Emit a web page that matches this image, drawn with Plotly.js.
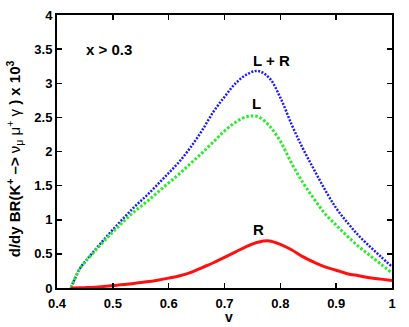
<!DOCTYPE html>
<html>
<head>
<meta charset="utf-8">
<script src="https://cdn.plot.ly/plotly-3.0.1.min.js"></script>
<style>
  html, body { margin: 0; padding: 0; background: #fff; }
  #chart { width: 409px; height: 327px; }
</style>
</head>
<body>
<div id="chart"></div>
<script>
// y values (x 10^3)
const yVals = [0.425, 0.43, 0.44, 0.45, 0.46, 0.48, 0.50, 0.52, 0.54, 0.56, 0.58, 0.60,
               0.62, 0.64, 0.66, 0.68, 0.70, 0.72, 0.74, 0.76, 0.78, 0.80, 0.82, 0.84,
               0.86, 0.88, 0.90, 0.92, 0.94, 0.96, 0.98, 1.00];

const sumLR = [0, 0.10, 0.27, 0.385, 0.48, 0.67, 0.855, 1.03, 1.20, 1.35, 1.515, 1.685,
               1.86, 2.07, 2.31, 2.58, 2.80, 3.00, 3.13, 3.18, 3.08, 2.79, 2.40, 2.05,
               1.74, 1.44, 1.17, 0.96, 0.77, 0.61, 0.46, 0.31];

const leftL = [0, 0.10, 0.27, 0.38, 0.47, 0.65, 0.82, 0.98, 1.13, 1.26, 1.40, 1.54,
               1.68, 1.83, 1.98, 2.14, 2.30, 2.43, 2.51, 2.51, 2.38, 2.15, 1.83, 1.55,
               1.31, 1.09, 0.92, 0.76, 0.61, 0.48, 0.35, 0.22];

const rightR = [0, 0, 0.002, 0.005, 0.008, 0.02, 0.035, 0.05, 0.07, 0.09, 0.115, 0.145,
                0.18, 0.23, 0.30, 0.37, 0.45, 0.53, 0.61, 0.67, 0.69, 0.64, 0.56, 0.46,
                0.38, 0.31, 0.26, 0.21, 0.18, 0.15, 0.13, 0.11];

const xTickVals = [0.4, 0.5, 0.6, 0.7, 0.8, 0.9, 1];
const xTickText = ['0.4', '0.5', '0.6', '0.7', '0.8', '0.9', '1'];
const yTickVals = [0, 0.5, 1, 1.5, 2, 2.5, 3, 3.5, 4];
const yTickText = ['0', '0.5', '1', '1.5', '2', '2.5', '3', '3.5', '4'];

const curveLabels = ['L + R', 'L', 'R'];
const labelX = [0.784, 0.758, 0.760];
const labelY = [3.34, 2.71, 0.86];

const fontFam = 'Liberation Sans, Arial, sans-serif';
const bold = s => '<b>' + s + '</b>';

const traceLR = {
    x: yVals, y: sumLR, type: 'scatter', mode: 'lines', name: 'L + R',
    line: { color: '#1a1aff', width: 2.5, dash: '2px,1.5px', shape: 'spline' }
};
const traceL = {
    x: yVals, y: leftL, type: 'scatter', mode: 'lines', name: 'L',
    line: { color: '#22ee22', width: 3, dash: '2.5px,2px', shape: 'spline' }
};
const traceR = {
    x: yVals, y: rightR, type: 'scatter', mode: 'lines', name: 'R',
    line: { color: '#ff1010', width: 3, shape: 'spline' }
};

const annots = curveLabels.map((t, i) => ({
    x: labelX[i], y: labelY[i], xref: 'x', yref: 'y', text: bold(t), showarrow: false,
    font: { family: fontFam, size: 15, color: '#000' }
}));
annots.push({
    x: 0.494, y: 3.5, xref: 'x', yref: 'y', text: bold('x > 0.3'), showarrow: false,
    font: { family: fontFam, size: 15, color: '#000' }
});
// axis titles placed as annotations to match the reference positions
annots.push({
    x: 0.513, y: -0.108, xref: 'paper', yref: 'paper', text: bold('v'), showarrow: false,
    xanchor: 'center', yanchor: 'middle', borderpad: 0,
    font: { family: fontFam, size: 14, color: '#000' }
});
annots.push({
    x: -0.128, y: 0.472, xref: 'paper', yref: 'paper', textangle: -90, showarrow: false,
    xanchor: 'center', yanchor: 'middle',
    text: bold('d/dy BR(K<sup>+</sup> \u2013> ') + '\u03bd<sub>\u03bc</sub> \u03bc<sup>+</sup> \u03b3' + bold(' ) x 10<sup>3</sup>'),
    font: { family: fontFam, size: 15, color: '#000' }
});

const axisCommon = {
    showline: true, linecolor: '#000', linewidth: 2, mirror: 'ticks',
    ticks: 'inside', ticklen: 5, tickwidth: 1.5, tickcolor: '#000',
    showgrid: false, zeroline: false,
    tickfont: { family: fontFam, size: 13, color: '#000' }
};

const layout = {
    width: 409, height: 327,
    margin: { l: 57, r: 17, t: 15, b: 39 },
    paper_bgcolor: '#fff', plot_bgcolor: '#fff',
    showlegend: false,
    xaxis: Object.assign({}, axisCommon, {
        range: [0.4, 1], tickmode: 'array', tickvals: xTickVals, ticktext: xTickText.map(bold),
        ticklabelstandoff: 2
    }),
    yaxis: Object.assign({}, axisCommon, {
        range: [0, 4], tickmode: 'array', tickvals: yTickVals, ticktext: yTickText.map(bold)
    }),
    annotations: annots
};

Plotly.newPlot('chart', [traceLR, traceL, traceR], layout, { displayModeBar: false, staticPlot: true });
</script>
</body>
</html>
